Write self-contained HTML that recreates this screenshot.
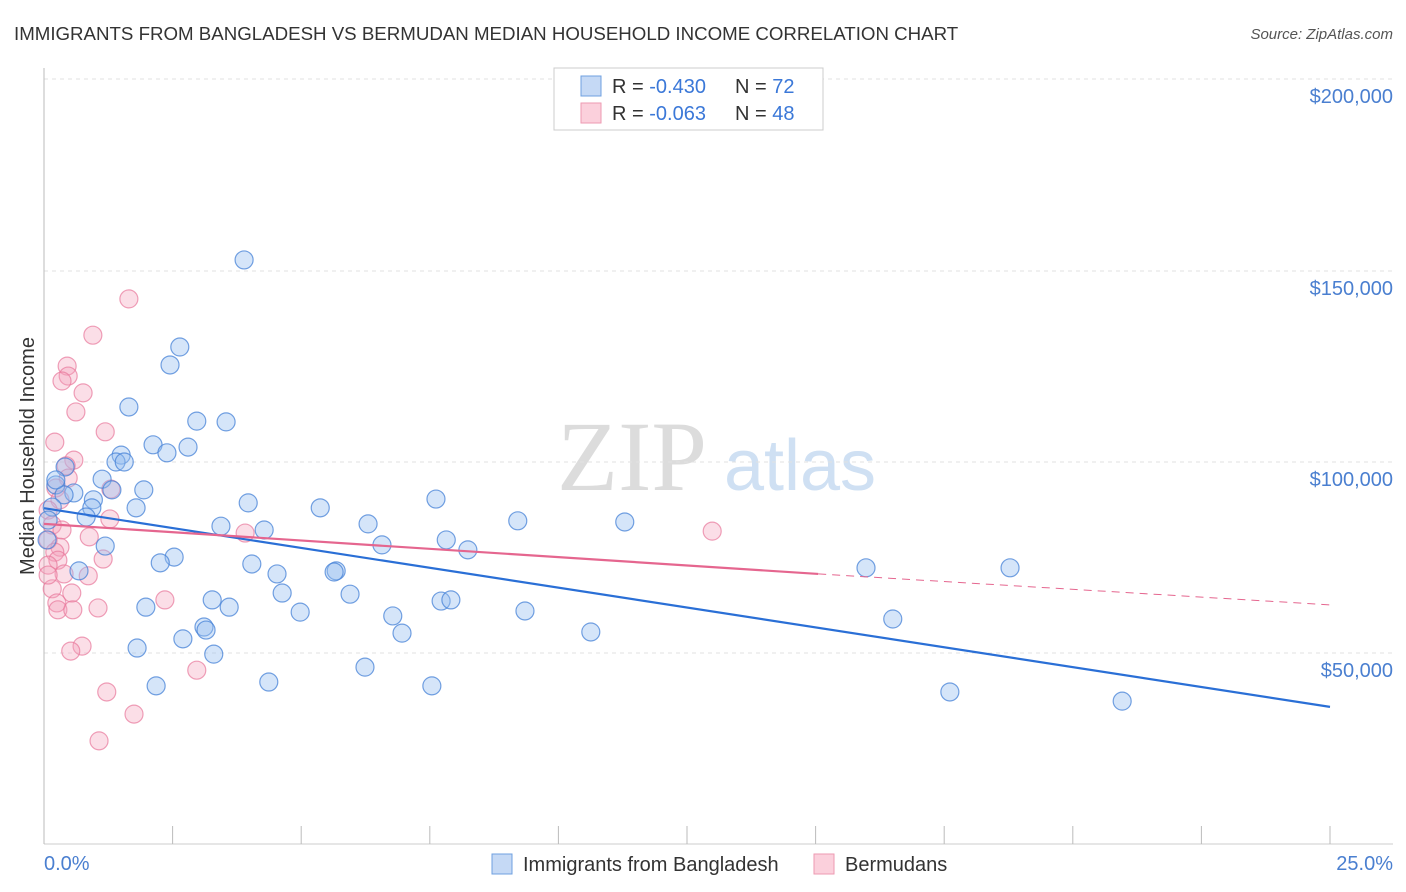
<!DOCTYPE html>
<html><head><meta charset="utf-8">
<style>
body{margin:0;background:#fff;font-family:"Liberation Sans",sans-serif;}
#wrap{position:relative;width:1406px;height:892px;overflow:hidden;}
</style></head>
<body>
<div id="wrap">
<svg id="svg" width="1406" height="892" xmlns="http://www.w3.org/2000/svg">
<text x="14" y="40" font-size="18.7" fill="#333">IMMIGRANTS FROM BANGLADESH VS BERMUDAN MEDIAN HOUSEHOLD INCOME CORRELATION CHART</text>
<text x="1393" y="39" font-size="15" fill="#555" text-anchor="end" font-style="italic">Source: ZipAtlas.com</text>
<text x="632" y="490" font-size="100" fill="#dcdcdc" font-family="Liberation Serif,serif" text-anchor="middle">ZIP</text>
<text x="800" y="490" font-size="72" fill="#cfe0f3" text-anchor="middle">atlas</text>
<g id="grid"></g>
<g id="marks"></g>
<text transform="translate(34,456) rotate(-90)" font-size="20" fill="#333" text-anchor="middle">Median Household Income</text>
<text x="44" y="870" font-size="20" fill="#4a7fd0">0.0%</text>
<text x="1393" y="870" font-size="20" fill="#4a7fd0" text-anchor="end">25.0%</text>
<g>
<rect x="554" y="68" width="269" height="62" fill="#fff" stroke="#ccc"/>
<rect x="581" y="76" width="20" height="20" fill="#c5d9f5" stroke="#6fa0e0"/>
<rect x="581" y="103" width="20" height="20" fill="#fbd0dc" stroke="#ee9ab2"/>
<text x="612" y="93" font-size="20" fill="#333">R = <tspan fill="#3b78d8">-0.430</tspan></text>
<text x="735" y="93" font-size="20" fill="#333">N = <tspan fill="#3b78d8">72</tspan></text>
<text x="612" y="120" font-size="20" fill="#333">R = <tspan fill="#3b78d8">-0.063</tspan></text>
<text x="735" y="120" font-size="20" fill="#333">N = <tspan fill="#3b78d8">48</tspan></text>
</g>
<g>
<rect x="492" y="854" width="20" height="20" fill="#c5d9f5" stroke="#6fa0e0"/>
<text x="523" y="871" font-size="20" fill="#333">Immigrants from Bangladesh</text>
<rect x="814" y="854" width="20" height="20" fill="#fbd0dc" stroke="#ee9ab2"/>
<text x="845" y="871" font-size="20" fill="#333">Bermudans</text>
</g>
</svg>
</div>
<script>
const yTicks=[50000,100000,150000,200000];
const yTickLabels=["$50,000","$100,000","$150,000","$200,000"];
const xTicks=[0,2.5,5,7.5,10,12.5,15,17.5,20,22.5,25];
const blueX=[3.89,2.64,2.45,1.65,2.97,3.54,2.12,2.80,2.39,1.50,1.40,1.56,0.41,1.13,0.23,1.32,1.94,0.58,0.39,0.96,7.62,3.97,0.16,0.93,1.79,5.37,0.82,9.21,11.29,3.44,6.30,4.28,7.82,1.19,6.57,8.24,2.53,2.26,4.04,5.68,5.64,0.68,15.98,18.78,4.53,4.63,5.95,3.27,7.72,7.91,1.98,3.60,4.98,9.35,6.78,16.50,3.11,3.15,6.96,10.63,2.70,1.81,3.30,6.24,2.18,4.37,7.54,17.61,20.96,0.08,0.23,0.06];
const blueY=[152.9,130.1,125.4,114.4,110.7,110.5,104.5,103.9,102.4,101.8,100.0,100.0,98.7,95.5,94.0,92.7,92.7,91.9,91.4,90.1,90.3,89.3,88.2,88.0,88.0,88.0,85.6,84.6,84.3,83.2,83.8,82.2,79.6,78.0,78.3,77.0,75.1,73.6,73.3,71.5,71.2,71.5,72.3,72.3,70.7,65.7,65.4,63.9,63.6,63.9,62.0,62.0,60.7,61.0,59.7,58.9,56.8,56.0,55.2,55.5,53.7,51.3,49.7,46.3,41.4,42.4,41.4,39.8,37.4,84.8,95.3,79.6];
const pinkX=[1.65,0.95,0.45,0.47,0.35,0.76,0.62,1.19,0.21,0.58,0.43,0.47,1.30,0.23,0.31,0.08,1.28,0.16,0.35,3.91,12.99,0.88,0.08,0.31,0.21,1.15,0.27,0.08,0.39,0.86,0.16,0.54,2.35,0.25,0.27,0.56,1.05,0.74,0.52,2.97,1.22,1.75,1.07,0.08];
const pinkY=[142.7,133.2,125.1,122.5,121.2,118.1,113.1,107.9,105.2,100.5,99.0,95.8,92.9,93.2,90.1,87.4,85.1,83.5,82.2,81.4,81.9,80.4,79.6,77.7,76.4,74.6,74.3,73.0,70.7,70.2,66.8,65.7,63.9,63.1,61.3,61.3,61.8,51.8,50.5,45.5,39.8,34.0,27.0,70.4];
const blueTrend=[[0,87.9],[25,35.9]];
const pinkTrendSolid=[[0,83.8],[15.05,70.7]];
const pinkTrendDash=[[15.05,70.7],[25,62.6]];

const X=v=>44+v*51.44;
const Y=v=>653-(v-50)*3.82;
const NS="http://www.w3.org/2000/svg";
function mk(tag,attrs,parent){const e=document.createElementNS(NS,tag);for(const k in attrs)e.setAttribute(k,attrs[k]);parent.appendChild(e);return e;}
const grid=document.getElementById('grid'),marks=document.getElementById('marks');
yTicks.forEach((t,i)=>{
  const y=Y(t/1000)+(t===200000?-1:0);
  const l=mk('line',{x1:44,x2:1393,y1:y,y2:y,stroke:'#e2e2e2','stroke-dasharray':'4,4'},grid);
  
  
  const tx=mk('text',{x:1393,y:y+24,'font-size':20,fill:'#4a7fd0','text-anchor':'end'},grid);
  tx.textContent=yTickLabels[i];
  
  
});
const ax=mk('line',{x1:44,x2:44,y1:68,y2:844,stroke:'#bbb'},grid);


const bx=mk('line',{x1:44,x2:1393,y1:844,y2:844,stroke:'#ccc'},grid);


xTicks.forEach(t=>{
  const l=mk('line',{x1:X(t),x2:X(t),y1:826,y2:844,stroke:'#bbb'},grid);
  
  
});
pinkX.forEach((x,i)=>{
  const c=mk('circle',{cx:X(x),cy:Y(pinkY[i]),r:9,fill:'rgba(244,160,185,0.35)',stroke:'rgba(232,120,155,0.7)','stroke-width':1.2},marks);
  
  
});
blueX.forEach((x,i)=>{
  const c=mk('circle',{cx:X(x),cy:Y(blueY[i]),r:9,fill:'rgba(150,190,240,0.4)',stroke:'rgba(70,130,215,0.75)','stroke-width':1.2},marks);
  
  
});
const bl=mk('line',{x1:X(blueTrend[0][0]),y1:Y(blueTrend[0][1]),x2:X(blueTrend[1][0]),y2:Y(blueTrend[1][1]),stroke:'#2a6fd6','stroke-width':2.2},marks);


const pl=mk('line',{x1:X(pinkTrendSolid[0][0]),y1:Y(pinkTrendSolid[0][1]),x2:X(pinkTrendSolid[1][0]),y2:Y(pinkTrendSolid[1][1]),stroke:'#e5668f','stroke-width':2.2},marks);


const pd=mk('line',{x1:X(pinkTrendDash[0][0]),y1:Y(pinkTrendDash[0][1]),x2:X(pinkTrendDash[1][0]),y2:Y(pinkTrendDash[1][1]),stroke:'#e5668f','stroke-width':1,'stroke-dasharray':'8,6'},marks);


</script>
</body></html>
